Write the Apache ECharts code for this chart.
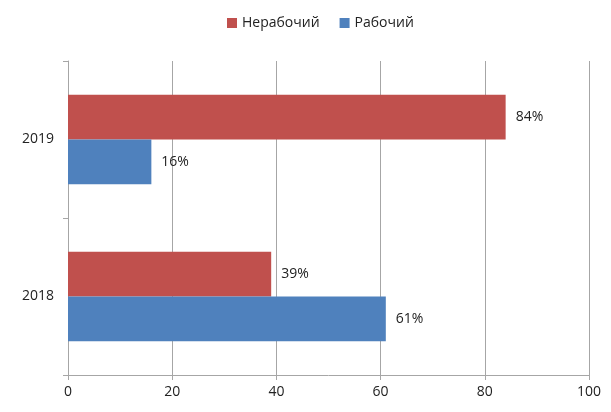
<!DOCTYPE html>
<html><head><meta charset="utf-8">
<script src="https://cdn.jsdelivr.net/npm/echarts@6/dist/echarts.min.js"></script>
<style>html,body{margin:0;padding:0;background:#fff}#c{width:611px;height:412px}</style>
</head><body><div id="c"></div>
<script>
const categories = ['2018', '2019'];
const nerabochiy = [39, 84];
const rabochiy = [61, 16];
const xTicks = [0, 20, 40, 60, 80, 100];

const chart = echarts.init(document.getElementById('c'));
const font = 'Open Sans, Noto Sans, sans-serif';
chart.setOption({
  animation: false,
  textStyle: { fontFamily: font },
  legend: {
    top: 11, left: 222,
    data: ['Нерабочий', 'Рабочий'],
    itemWidth: 10, itemHeight: 10, itemGap: 20,
    icon: 'rect',
    textStyle: { fontSize: 14, color: '#222', fontFamily: font }
  },
  grid: { left: 68, right: 22, top: 61, bottom: 37, containLabel: false },
  xAxis: {
    type: 'value', min: xTicks[0], max: xTicks[xTicks.length - 1], interval: 20,
    axisLine: { show: true, lineStyle: { color: '#a6a6a6' } },
    axisTick: { show: true, length: 5, lineStyle: { color: '#a6a6a6' } },
    splitLine: { show: true, lineStyle: { color: '#a6a6a6' } },
    axisLabel: { fontSize: 14, color: '#222', margin: 10, fontFamily: font }
  },
  yAxis: {
    type: 'category', data: categories,
    axisLine: { show: true, lineStyle: { color: '#a6a6a6' } },
    axisTick: { show: true, length: 5, lineStyle: { color: '#a6a6a6' } },
    axisLabel: { fontSize: 14, color: '#222', margin: 14, fontFamily: font }
  },
  series: [
    {
      name: 'Нерабочий', type: 'bar', data: nerabochiy,
      itemStyle: { color: '#C0504D' },
      barGap: '0%', barCategoryGap: '43%',
      label: { show: true, position: 'right', distance: 10, formatter: '{c}%', fontSize: 14, color: '#222', fontFamily: font }
    },
    {
      name: 'Рабочий', type: 'bar', data: rabochiy,
      itemStyle: { color: '#4F81BD' },
      barGap: '0%', barCategoryGap: '43%',
      label: { show: true, position: 'right', distance: 10, formatter: '{c}%', fontSize: 14, color: '#222', fontFamily: font }
    }
  ]
});
</script></body></html>
